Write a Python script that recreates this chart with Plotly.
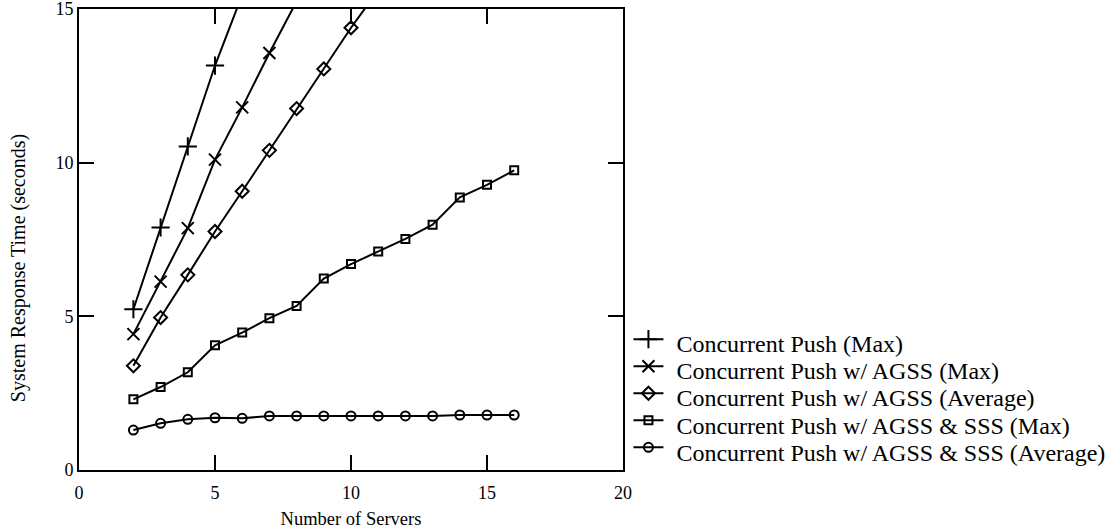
import plotly.graph_objects as go

# ---- data ----
servers_push_max = [2, 3, 4, 5, 6]
push_max = [5.23, 7.89, 10.53, 13.16, 15.46]

servers_agss_max = [2, 3, 4, 5, 6, 7, 8]
agss_max = [4.42, 6.13, 7.87, 10.10, 11.80, 13.57, 15.25]

servers_agss_avg = [2, 3, 4, 5, 6, 7, 8, 9, 10, 11]
agss_avg = [3.39, 4.96, 6.35, 7.76, 9.07, 10.40, 11.76, 13.05, 14.39, 15.61]

servers_sss = list(range(2, 17))
sss_max = [2.30, 2.70, 3.18, 4.06, 4.47, 4.94, 5.34, 6.23, 6.70, 7.11, 7.52, 7.98, 8.87, 9.28, 9.75]
sss_avg = [1.30, 1.52, 1.65, 1.70, 1.68, 1.76, 1.76, 1.76, 1.76, 1.76, 1.76, 1.76, 1.79, 1.79, 1.79]

names = [
    "Concurrent Push (Max)",
    "Concurrent Push w/ AGSS (Max)",
    "Concurrent Push w/ AGSS (Average)",
    "Concurrent Push w/ AGSS & SSS (Max)",
    "Concurrent Push w/ AGSS & SSS (Average)",
]
x_ticks = [0, 5, 10, 15, 20]
y_ticks = [0, 5, 10, 15]
x_title = "Number of Servers"
y_title = "System Response Time (seconds)"

FONT = "Liberation Serif, Times New Roman, serif"

series = [
    (servers_push_max, push_max, "cross-thin-open", 13),
    (servers_agss_max, agss_max, "x-thin-open", 12),
    (servers_agss_avg, agss_avg, "diamond-open", 10),
    (servers_sss, sss_max, "square-open", 8),
    (servers_sss, sss_avg, "circle-open", 9),
]

fig = go.Figure()
for (xs, ys, sym, sz), nm in zip(series, names):
    fig.add_trace(go.Scatter(
        x=xs, y=ys, mode="lines+markers",
        name=('<span style="font-size:32px">\u00a0</span>'
              '<span style="font-size:24px;baseline-shift:-6px">' + nm + '</span>'),
        line=dict(color="black", width=2),
        marker=dict(symbol=sym, size=sz, color="black", line=dict(color="black", width=2)),
        cliponaxis=True,
    ))

axis_common = dict(
    showline=True, linecolor="black", linewidth=2, mirror="ticks",
    ticks="inside", ticklen=15, tickwidth=2, tickcolor="black",
    showgrid=False, zeroline=False, ticklabeloverflow="allow",
    tickfont=dict(family=FONT, size=18, color="black"),
)

fig.update_xaxes(
    range=[0, 20], tickvals=x_ticks, ticktext=[str(v) for v in x_ticks],
    title=dict(text=x_title, font=dict(family=FONT, size=18.5, color="black"), standoff=16),
    ticklabelstandoff=5,
    **axis_common,
)
fig.update_yaxes(
    range=[0, 15], tickvals=y_ticks, ticktext=[str(v) for v in y_ticks],
    **axis_common,
)

fig.update_layout(
    width=1110, height=529,
    margin=dict(l=79, r=487, t=9, b=59, autoexpand=False),
    plot_bgcolor="white", paper_bgcolor="white",
    font=dict(family=FONT, color="black"),
    showlegend=True,
    legend=dict(
        x=1.01, xanchor="left", y=0.324, yanchor="top",
        font=dict(family=FONT, size=18.5, color="black"),
        itemwidth=30, bgcolor="rgba(0,0,0,0)", borderwidth=0,
    ),
    annotations=[dict(
        text=y_title, textangle=-90, showarrow=False,
        xref="paper", yref="paper", x=-0.112, y=0.438,
        xanchor="center", yanchor="middle",
        font=dict(family=FONT, size=20, color="black"),
    )],
)

fig.write_html("out.html")
